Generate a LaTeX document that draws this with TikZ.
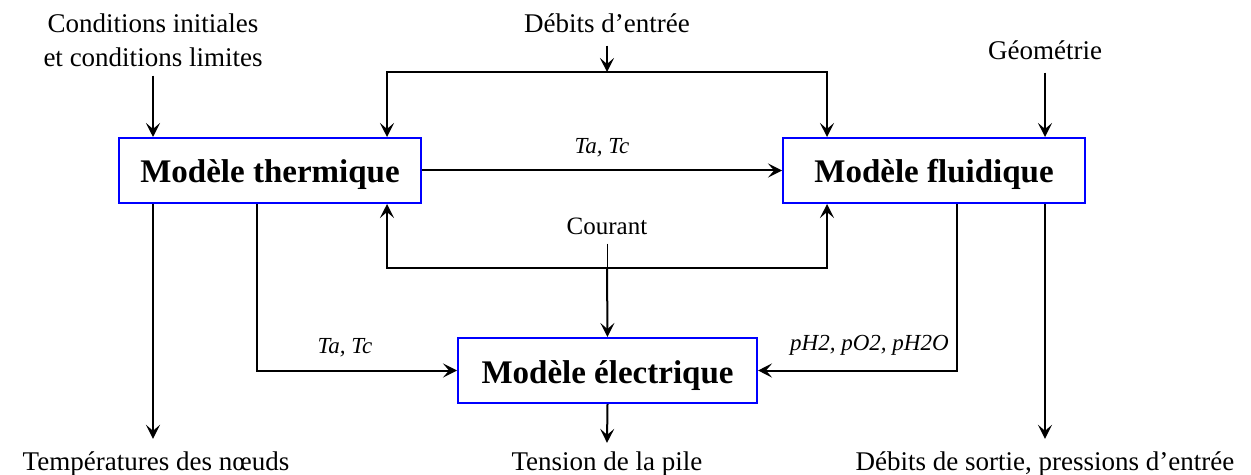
\documentclass[tikz,border=0pt]{standalone}
\usepackage{fontspec}
\setmainfont{Liberation Serif}
\usetikzlibrary{arrows.meta,positioning}

\begin{document}
\begin{tikzpicture}[
    x=0.5pt, y=-0.5pt,
    model/.style={rectangle, draw=blue, line width=1pt, fill=white, minimum width=151pt,
                  minimum height=32.5pt, inner sep=0pt, text height=12.5pt, text depth=0pt,
                  font=\fontsize{16.5}{19}\selectfont\bfseries},
    txt/.style={inner sep=0pt, align=center, font=\fontsize{13.5}{17}\selectfont},
    var/.style={inner sep=0pt, font=\fontsize{11.5}{13}\selectfont\itshape},
    arrow/.style={-{Stealth[length=7pt,width=7pt,inset=3pt]}, line width=1pt}
]
    \useasboundingbox (0,0) rectangle (1251,475);

    % Models
    \node[model] (therm) at (270,170.5) {Modèle thermique};
    \node[model] (fluid) at (934,170.5) {Modèle fluidique};
    \node[model, minimum width=149.5pt] (elec) at (607.5,370.5) {Modèle électrique};

    % Inputs (top)
    \node[txt, anchor=base] (cond) at (153,67) {Conditions initiales\\et conditions limites};
    \node[txt, anchor=base] (debin) at (607,33) {Débits d’entrée};
    \node[txt, anchor=base] (geo) at (1045,60) {Géométrie};
    \node[inner sep=0pt, anchor=base, font=\fontsize{12.5}{14}\selectfont] (cour) at (607,235) {Courant};

    % Outputs (bottom)
    \node[txt, anchor=base] (temp) at (156,470) {Températures des nœuds};
    \node[txt, anchor=base] (tens) at (607,470) {Tension de la pile};
    \node[txt, anchor=base] (sortie) at (1045,470) {Débits de sortie, pressions d’entrée};

    % Branch points
    \coordinate (qin) at (607,72);
    \coordinate (qL) at (387,72);
    \coordinate (qR) at (827,72);
    \coordinate (imid) at (607,268);
    \coordinate (tT) at (257,0);
    \coordinate (pF) at (957,0);

    % Input arrows
    \draw[arrow] ([yshift=-4pt]cond.south) -- (therm.north -| cond.south);
    \draw[arrow] ([yshift=-6pt]debin.south) -- (qin);
    \draw[arrow] (qin) -| (therm.north -| qL);
    \draw[arrow] (qin) -| (fluid.north -| qR);
    \draw[arrow] ([yshift=-6pt]geo.south) -- (fluid.north -| geo.south);

    % Coupling
    \draw[arrow] (therm.east) -- node[var, above=6pt] {Ta, Tc} (fluid.west);
    \draw[line width=0.5pt] ([yshift=-4pt]cour.south) -- (imid);
    \draw[arrow] (imid) -- (elec.north);
    \draw[arrow] (imid) -| (therm.south -| qL);
    \draw[arrow] (imid) -| (fluid.south -| qR);
    \draw[arrow] (therm.south -| tT) |- node[var, above=6pt, pos=0.72] {Ta, Tc} (elec.west);
    \draw[arrow] (fluid.south -| pF) |- node[var, above=7pt, pos=0.72] {pH2, pO2, pH2O} (elec.east);

    % Output arrows
    \draw[arrow] (therm.south -| cond.south) -- ([yshift=6pt]temp.north -| cond.south);
    \draw[arrow] (elec.south) -- ([yshift=4pt]tens.north);
    \draw[arrow] (fluid.south -| sortie.north) -- ([yshift=6pt]sortie.north);
\end{tikzpicture}
\end{document}
